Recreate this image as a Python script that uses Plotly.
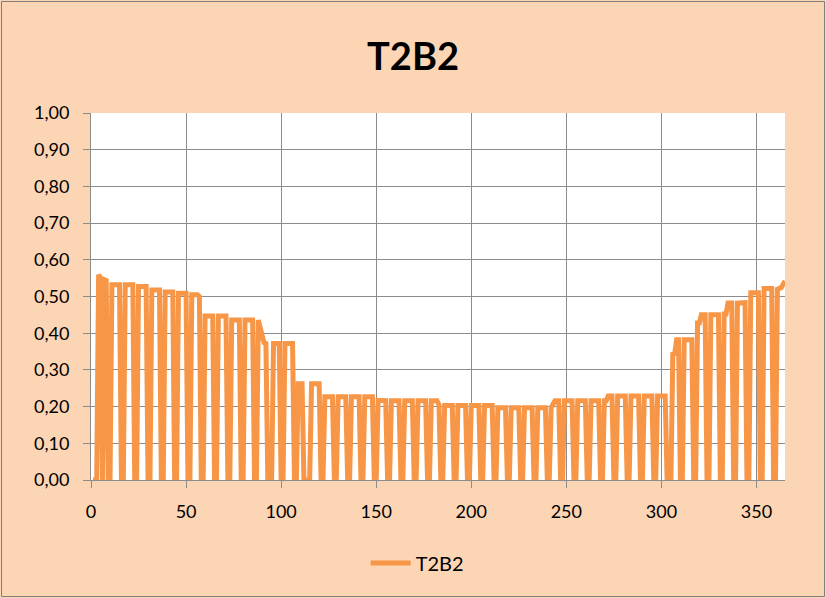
import plotly.graph_objects as go

# Day index 1..365 and the daily T2B2 values
days = list(range(1, 366))
values = [
    0, 0, 0,
    0.559, 0.550, 0, 0.546, 0.544, 0, 0,
    0.532, 0.532, 0.532, 0.532, 0.532, 0, 0,
    0.532, 0.532, 0.532, 0.532, 0.532, 0, 0,
    0.527, 0.527, 0.527, 0.527, 0.527, 0, 0,
    0.518, 0.518, 0.518, 0.518, 0.518, 0, 0,
    0.512, 0.512, 0.512, 0.512, 0.512, 0, 0,
    0.509, 0.509, 0.509, 0.509, 0.509, 0, 0,
    0.505, 0.505, 0.505, 0.505, 0.500, 0, 0,
    0.447, 0.447, 0.447, 0.447, 0.447, 0, 0,
    0.447, 0.447, 0.447, 0.447, 0.447, 0, 0,
    0.436, 0.436, 0.436, 0.436, 0.436, 0, 0,
    0.436, 0.436, 0.436, 0.436, 0.436, 0, 0,
    0.436, 0.418, 0.392, 0.374, 0.372, 0, 0,
    0, 0.372, 0.372, 0.372, 0.372, 0, 0,
    0.372, 0.372, 0.372, 0.372, 0.372, 0, 0,
    0.262, 0.262, 0.262, 0, 0, 0, 0,
    0.262, 0.262, 0.262, 0.262, 0.262, 0, 0,
    0.227, 0.227, 0.227, 0.227, 0.227, 0, 0,
    0.227, 0.227, 0.227, 0.227, 0.227, 0, 0,
    0.227, 0.227, 0.227, 0.227, 0.227, 0, 0,
    0.227, 0.227, 0.227, 0.227, 0.227, 0, 0,
    0.217, 0.217, 0.216, 0.216, 0.216, 0, 0,
    0.216, 0.216, 0.216, 0.216, 0.216, 0, 0,
    0.216, 0.216, 0.216, 0.216, 0.216, 0, 0,
    0.216, 0.216, 0.216, 0.216, 0.216, 0, 0,
    0.216, 0.216, 0.216, 0.216, 0.205, 0, 0,
    0.203, 0.203, 0.203, 0.203, 0.203, 0, 0,
    0.203, 0.203, 0.203, 0.203, 0.203, 0, 0,
    0.203, 0.203, 0.203, 0.203, 0.203, 0, 0,
    0.203, 0.203, 0.203, 0.203, 0.203, 0, 0,
    0.197, 0.197, 0.197, 0.197, 0.197, 0, 0,
    0.197, 0.197, 0.197, 0.197, 0.197, 0, 0,
    0.197, 0.197, 0.197, 0.197, 0.197, 0, 0,
    0.197, 0.197, 0.197, 0.197, 0.197, 0, 0,
    0.197, 0.210, 0.216, 0.216, 0.216, 0, 0,
    0.216, 0.216, 0.216, 0.216, 0.216, 0, 0,
    0.216, 0.216, 0.216, 0.216, 0.216, 0, 0,
    0.216, 0.216, 0.216, 0.216, 0.216, 0, 0,
    0.216, 0.216, 0.229, 0.229, 0.229, 0, 0,
    0.229, 0.229, 0.229, 0.229, 0.229, 0, 0,
    0.229, 0.229, 0.229, 0.229, 0.229, 0, 0,
    0.229, 0.229, 0.229, 0.229, 0.229, 0, 0,
    0.229, 0.229, 0.229, 0.229, 0.229, 0, 0,
    0, 0.343, 0.345, 0.382, 0.382, 0, 0,
    0.382, 0.382, 0.382, 0.382, 0.382, 0, 0,
    0.428, 0.428, 0.450, 0.450, 0.450, 0, 0,
    0.450, 0.450, 0.450, 0.450, 0.450, 0, 0,
    0.452, 0.452, 0.482, 0.482, 0.482, 0, 0,
    0.482, 0.482, 0.482, 0.483, 0.483, 0, 0,
    0.510, 0.510, 0.510, 0.510, 0.510, 0, 0,
    0.522, 0.522, 0.522, 0.522, 0.522, 0, 0,
    0.520, 0.521, 0.524, 0.533, 0.542,
]

x_ticks = [0, 50, 100, 150, 200, 250, 300, 350]
y_ticks = [0.0, 0.1, 0.2, 0.3, 0.4, 0.5, 0.6, 0.7, 0.8, 0.9, 1.0]
series_name = "T2B2"
title_text = "T2B2"

BG = "#FCD5B4"
LINE = "#F79646"
GRID = "#8C8C8C"
FONT = "Lato"

fig = go.Figure()
fig.add_trace(go.Scatter(
    x=days, y=values, mode="lines", name=series_name,
    line=dict(color=LINE, width=5),
))

fig.update_layout(
    width=826, height=598,
    paper_bgcolor=BG, plot_bgcolor="white",
    margin=dict(l=91, r=41, t=113, b=118),
    separators=",.",
    title=dict(text="<b>" + title_text + "</b>", x=0.5, xanchor="center",
               y=1 - 57 / 598, yanchor="middle",
               font=dict(family=FONT, size=38, color="black")),
    font=dict(family=FONT, size=18, color="black"),
    showlegend=True,
    legend=dict(orientation="h", x=0.47, xanchor="center", y=-0.226, yanchor="middle",
                bgcolor="rgba(0,0,0,0)", font=dict(size=20), itemwidth=40),
    xaxis=dict(range=[0, 365], tickvals=x_ticks, showgrid=True, gridcolor=GRID, gridwidth=1,
               showline=True, linecolor=GRID, linewidth=1, ticks="outside", ticklen=7,
               tickcolor=GRID, zeroline=False, ticklabelstandoff=8,
               tickfont=dict(size=18)),
    yaxis=dict(range=[0, 1.0], tickvals=y_ticks, tickformat=".2f", showgrid=True,
               gridcolor=GRID, gridwidth=1, showline=True, linecolor=GRID, linewidth=1,
               ticks="outside", ticklen=7, tickcolor=GRID, zeroline=False,
               ticklabelstandoff=10, tickfont=dict(size=18)),
)

# chart outer border
fig.add_shape(type="rect", xref="paper", yref="paper",
              x0=(1.5 - 91) / 694, x1=(824.5 - 91) / 694,
              y0=(480 - 596.5) / 367, y1=(480 - 1.5) / 367,
              line=dict(color="#7F7F7F", width=1), layer="below")

fig.write_html("out.html", config={"displayModeBar": False},
               post_script="document.body.style.margin='0';document.body.style.overflow='hidden';")
